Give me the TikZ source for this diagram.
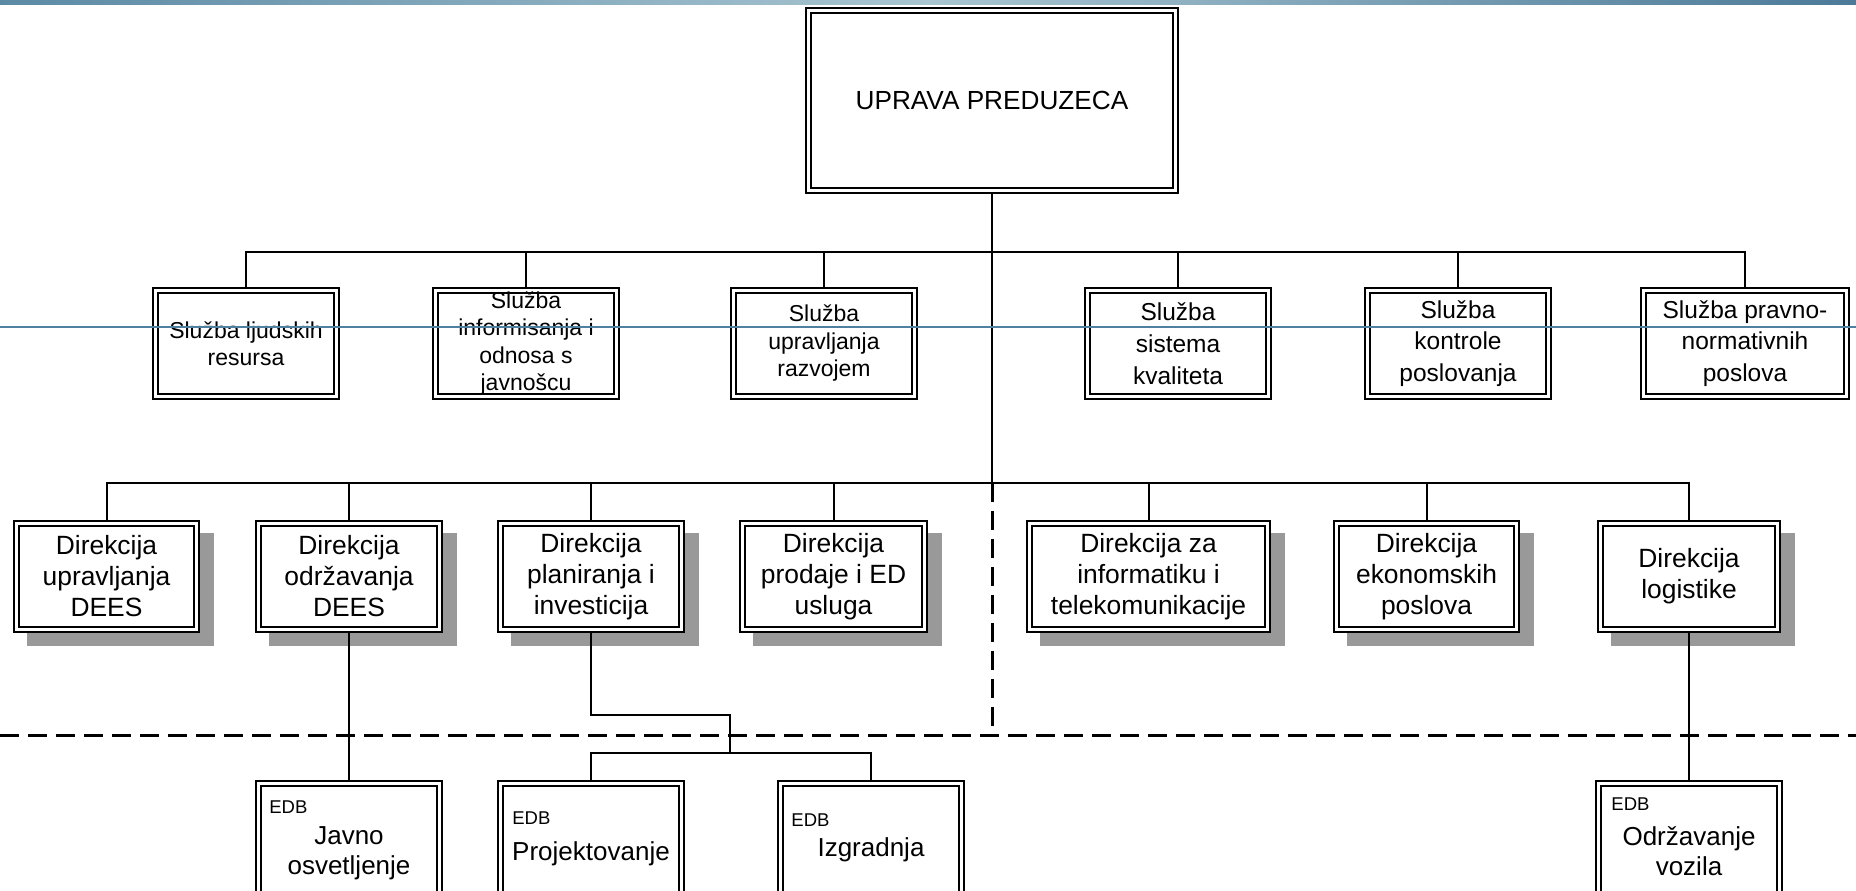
\documentclass[tikz,border=0pt]{standalone}
\usepackage{fontspec}
\setmainfont{Liberation Sans}
\usetikzlibrary{backgrounds}

\definecolor{bandleft}{RGB}{92,138,165}
\definecolor{bandmid}{RGB}{168,197,209}
\definecolor{bandright}{RGB}{76,122,152}
\definecolor{rulecol}{RGB}{78,128,160}
\definecolor{shadowgray}{RGB}{153,153,153}

% box with a double border, given by its outer corners (x1,y1)-(x2,y2) in px
\newcommand\orgunit[7]{% #1 style, #2 name, #3 x1, #4 y1, #5 x2, #6 y2, #7 text
  \node[unit,#1,minimum width={(#5-#3-7)*0.5pt},minimum height={(#6-#4-7)*0.5pt}]
    (#2) at ({(#3+#5)/2},{(#4+#6)/2}) {#7};}
% the same box with a flat grey drop shadow
\newcommand\orgdirect[6]{% #1 name, #2 x1, #3 y1, #4 x2, #5 y2, #6 text
  \begin{scope}[on background layer]
    \fill[shadowgray] ({#2+14},{#3+13}) rectangle ({#4+14},{#5+13});
  \end{scope}
  \orgunit{fdir}{#1}{#2}{#3}{#4}{#5}{#6}}

\begin{document}
\begin{tikzpicture}[x=0.5pt,y={(0,-0.5pt)},
  unit/.style={rectangle,draw=black,double=white,double distance=1.5pt,line width=1pt,
    fill=white,inner sep=0pt,outer sep=1.75pt,align=center},
  ftop/.style={font=\fontsize{13.1pt}{16pt}\selectfont},
  fsa/.style={font=\fontsize{11.5pt}{13.75pt}\selectfont},
  fsb/.style={font=\fontsize{12.25pt}{15.85pt}\selectfont},
  fdir/.style={font=\fontsize{13.2pt}{15.5pt}\selectfont},
  fedb/.style={font=\fontsize{9.25pt}{11pt}\selectfont,inner sep=0pt},
  fbody/.style={font=\fontsize{13pt}{15pt}\selectfont,inner sep=0pt,align=center},
  conn/.style={line width=1pt,line cap=rect},
  trunk/.style={line width=1.4pt},
  border/.style={line width=1.5pt,dash pattern=on 9.5pt off 4.5pt}]

\useasboundingbox (0,0) rectangle (1856,890);
\clip (0,0) rectangle (1856,890);
\begin{scope}[on background layer]
  \fill[white] (0,0) rectangle (1856,890);
\end{scope}

% management
\orgunit{ftop}{top}{805}{7}{1179}{194}{UPRAVA PREDUZECA}

% staff services
\orgunit{fsa}{s1}{152}{287}{340}{400}{Služba ljudskih\\resursa}
\orgunit{fsa}{s2}{432}{287}{620}{400}{Služba\\informisanja i\\odnosa s\\javnošcu}
\orgunit{fsa}{s3}{730}{287}{918}{400}{Služba\\upravljanja\\razvojem}
\orgunit{fsb}{s4}{1084}{287}{1272}{400}{Služba\\sistema\\kvaliteta}
\orgunit{fsb}{s5}{1364}{287}{1552}{400}{Služba\\kontrole\\poslovanja}
\orgunit{fsb}{s6}{1640}{287}{1850}{400}{Služba pravno-\\normativnih\\poslova}

% directorates
\orgdirect{d1}{13}{520}{200}{633}{Direkcija\\upravljanja\\DEES}
\orgdirect{d2}{255}{520}{443}{633}{Direkcija\\održavanja\\DEES}
\orgdirect{d3}{497}{520}{685}{633}{Direkcija\\planiranja i\\investicija}
\orgdirect{d4}{739}{520}{928}{633}{Direkcija\\prodaje i ED\\usluga}
\orgdirect{d5}{1026}{520}{1271}{633}{Direkcija za\\informatiku i\\telekomunikacije}
\orgdirect{d6}{1333}{520}{1520}{633}{Direkcija\\ekonomskih\\poslova}
\orgdirect{d7}{1597}{520}{1781}{633}{Direkcija\\logistike}

% business units
\orgunit{}{e1}{255}{780}{443}{905}{}
\orgunit{}{e2}{497}{780}{685}{905}{}
\orgunit{}{e3}{777}{780}{965}{905}{}
\orgunit{}{e4}{1595}{780}{1783}{905}{}

\node[fedb,anchor=base west] (e1tag) at (269,813) {EDB};
\node[fbody] (e1txt) at (349,853.6) {Javno\\osvetljenje};
\node[fedb,anchor=base west] (e2tag) at (512,824) {EDB};
\node[fbody,anchor=base] (e2txt) at (591,860) {Projektovanje};
\node[fedb,anchor=base west] (e3tag) at (791,826.7) {EDB};
\node[fbody,anchor=base] (e3txt) at (871,856.7) {Izgradnja};
\node[fedb,anchor=base west] (e4tag) at (1611,810.7) {EDB};
\node[fbody] (e4txt) at (1689,850.8) {Održavanje\\vozila};

% levels of the hierarchy
\coordinate (bus1) at (0,252);
\coordinate (bus2) at (0,483);
\coordinate (divl) at (0,735);
\coordinate (divr) at (1856,735);
\coordinate (elbow) at (730,715);
\coordinate (hub) at (730,753);

\begin{scope}[on background layer]
  \draw[trunk] (top.south) -- (top.south |- bus2);
  \draw[conn] (s1.north) -- (s1.north |- bus1) -- (s6.north |- bus1) -- (s6.north);
  \foreach \n in {s2,s3,s4,s5} \draw[conn] (\n.north) -- (\n.north |- bus1);
  \draw[conn] (d1.north) -- (d1.north |- bus2) -- (d7.north |- bus2) -- (d7.north);
  \foreach \n in {d2,d3,d4,d5,d6} \draw[conn] (\n.north) -- (\n.north |- bus2);
  \draw[conn] (d2.south) -- (e1.north);
  \draw[conn] (d7.south) -- (e4.north);
  \draw[conn] (d3.south) |- (elbow) -- (hub);
  \draw[conn] (e2.north) |- (hub);
  \draw[conn] (e3.north) |- (hub);
  \draw[border] (top.south |- bus2) -- (top.south |- divl);
  \draw[border] (divl) -- (divr);
\end{scope}

% slide decoration
\shade[left color=bandleft,right color=bandright,middle color=bandmid] (0,0) rectangle (1856,4);
\draw[rulecol,line width=0.7pt] (0,327) -- (1856,327);

\end{tikzpicture}
\end{document}
